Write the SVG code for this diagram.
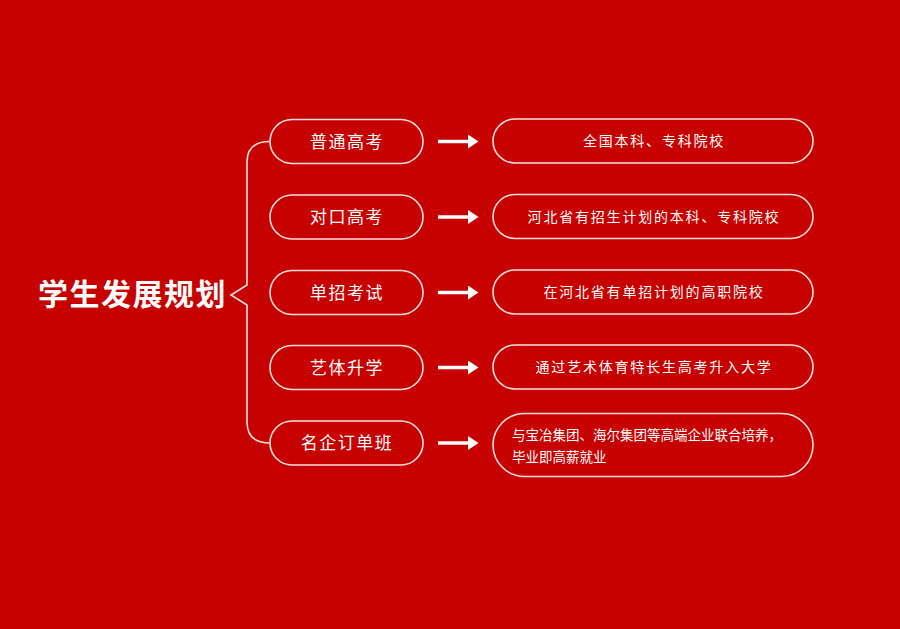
<svg xmlns="http://www.w3.org/2000/svg" width="900" height="629" viewBox="0 0 900 629">
<style>
.bg{fill:#c70000}
.box{fill:none;stroke:#f6e0e0;stroke-width:1.6}
.lbl{font-family:"Noto Sans CJK SC","Noto Sans",sans-serif;font-size:17px;fill:#ffffff;text-anchor:middle;letter-spacing:1.5px}
.rt{font-family:"Noto Sans CJK SC","Noto Sans",sans-serif;font-size:14px;fill:#ffffff;text-anchor:middle;letter-spacing:1.8px}
.rt2{font-family:"Noto Sans CJK SC","Noto Sans",sans-serif;font-size:13.5px;fill:#ffffff}
.title{font-family:"Noto Sans CJK SC","Noto Sans",sans-serif;font-size:30px;font-weight:bold;fill:#ffffff;letter-spacing:1.5px}
.conn{fill:none;stroke:#f6e0e0;stroke-width:1.6}
.arr{stroke:#ffffff;stroke-width:3.5}
</style>
<defs>
<marker id="ah" markerWidth="4" markerHeight="4" refX="0" refY="2" orient="auto" markerUnits="strokeWidth">
<path d="M0,0 L3,2 L0,4 z" fill="#ffffff"/>
</marker>
</defs>
<rect class="bg" x="0" y="0" width="900" height="629"/>
<g id="title"><text class="title" x="38" y="305">学生发展规划</text></g>
<g id="connectors">
<path class="conn" d="M270,141.5 Q247,141.5 247,162 L247,285 L231,295 L247,305 L247,422 Q247,443 270,443"/>
<line class="arr" x1="438" y1="141.5" x2="468" y2="141.5" marker-end="url(#ah)"/>
<line class="arr" x1="438" y1="217" x2="468" y2="217" marker-end="url(#ah)"/>
<line class="arr" x1="438" y1="292.5" x2="468" y2="292.5" marker-end="url(#ah)"/>
<line class="arr" x1="438" y1="367.5" x2="468" y2="367.5" marker-end="url(#ah)"/>
<line class="arr" x1="438" y1="443" x2="468" y2="443" marker-end="url(#ah)"/>
</g>
<g id="n1"><rect class="box" x="270" y="119.5" width="153" height="44" rx="22"/><text class="lbl" x="347" y="147.5">普通高考</text></g>
<g id="n2"><rect class="box" x="270" y="195" width="153" height="44" rx="22"/><text class="lbl" x="347" y="223">对口高考</text></g>
<g id="n3"><rect class="box" x="270" y="270.5" width="153" height="44" rx="22"/><text class="lbl" x="347" y="298.5">单招考试</text></g>
<g id="n4"><rect class="box" x="270" y="345.5" width="153" height="44" rx="22"/><text class="lbl" x="347" y="373.5">艺体升学</text></g>
<g id="n5"><rect class="box" x="270" y="421" width="153" height="44" rx="22"/><text class="lbl" x="347" y="449">名企订单班</text></g>
<g id="r1"><rect class="box" x="493" y="119" width="320" height="44" rx="22"/><text class="rt" x="654" y="146">全国本科、专科院校</text></g>
<g id="r2"><rect class="box" x="493" y="194.5" width="320" height="44" rx="22"/><text class="rt" x="654" y="221.5">河北省有招生计划的本科、专科院校</text></g>
<g id="r3"><rect class="box" x="493" y="270" width="320" height="44" rx="22"/><text class="rt" x="654" y="297">在河北省有单招计划的高职院校</text></g>
<g id="r4"><rect class="box" x="493" y="345" width="320" height="44" rx="22"/><text class="rt" x="654" y="372">通过艺术体育特长生高考升入大学</text></g>
<g id="r5"><rect class="box" x="493" y="413.5" width="320" height="63" rx="31.5"/><text class="rt2" x="512" y="440">与宝冶集团、海尔集团等高端企业联合培养，</text><text class="rt2" x="512" y="462">毕业即高薪就业</text></g>
</svg>
